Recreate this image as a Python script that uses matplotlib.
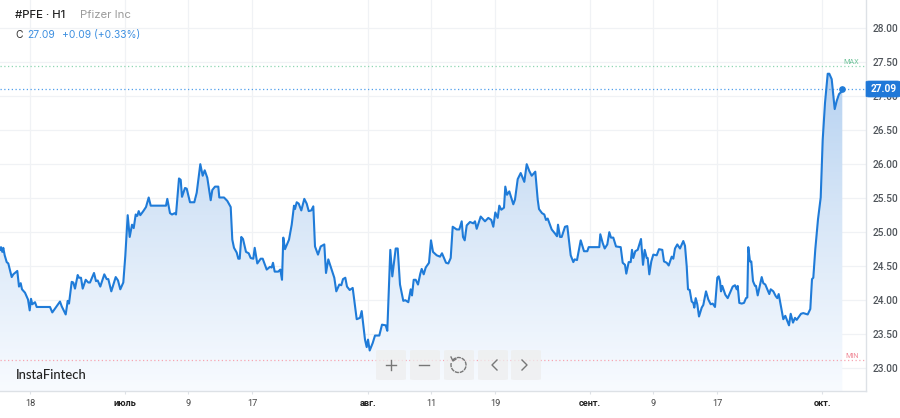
import matplotlib
matplotlib.use("Agg")
import matplotlib.pyplot as plt
import numpy as np
from matplotlib.colors import LinearSegmentedColormap
from matplotlib.patches import FancyBboxPatch, Arc

# bar position on the time axis / close price
bars = [0, 1, 2.3, 3.3, 4.7, 6.7, 8.3, 11.7, 13.3, 17.3, 19, 20.7, 22, 25, 28, 29.7, 31, 32.3, 35, 36.7, 50, 52.3, 60, 61.7, 65.7, 67.7, 69, 71.7, 73.3, 75,
        77.7, 79, 81, 82.7, 85.7, 88.3, 90, 94, 96, 97.7, 100.3, 104.3, 106.7, 108.3, 111.3, 115.7, 118, 120.3, 123.3, 125.3, 127.7, 129.7, 132, 133.7, 135.7, 137.3, 138.7, 140.3, 143.3, 146,
        148.7, 150.7, 166, 167.3, 170, 172, 174.7, 176, 179, 180.7, 182, 185, 186.7, 190, 194.3, 196.7, 200.3, 202.7, 204.7, 207.3, 210.7, 212.3, 215, 218.3, 219.3, 224, 227.3,
        230.7, 232.3, 234, 236.7, 238.3, 239.7, 241.3, 243, 246, 248.7, 250.7, 253.3, 254.7, 257.3, 260.7, 262.7, 266.7, 270, 271.7, 273, 274.7, 278.3, 280.3, 282, 283.3, 285, 289, 291.7,
        294, 295, 296.7, 298.7, 301.3, 304.3, 306.7, 308.7, 311.3, 313.3, 315, 318, 320.7, 324.3, 326, 328.3, 330.7, 334.3, 336.3, 339.3, 341.3, 343, 345.3, 347, 349.7, 352.7, 356.7, 360, 361.7,
        365, 366.7, 368, 369.7, 372.7, 375, 379.3, 382, 385.7, 387.3, 390.3, 392.3, 395.7, 397.7, 400, 403.3, 405.3, 408.3, 410.7, 412, 413.7, 415.7, 418, 420.3, 421.7, 423.7, 425.7, 429, 431, 433, 436.7, 440,
        442, 446, 448.3, 450.7, 452.7, 456.7, 459.3, 461.7, 463, 464.7, 466.7, 470, 473.3, 475, 476.7, 480.7, 485, 488.3, 491.3, 493.3, 495.3, 497.7, 499.3, 501.3, 504, 505.3, 507, 509.3, 513.3, 515,
        517.7, 520.7, 524.3, 526.7, 529.3, 531.7, 535.3, 537.7, 539, 542, 544.3, 546, 547.7, 551.7, 555, 557, 558, 560, 561.7, 565, 567.3, 570.7, 573.3, 574.7, 577, 580.7, 584, 587.3, 588.7, 599.3,
        600.3, 602.7, 604.7, 607.3, 609.3, 611, 613.3, 616, 620.7, 622.7, 625, 626.3, 628.7, 630.7, 632, 633.3, 635.3, 637.7, 641, 643, 644.7, 646.7, 647.7, 649.3,
        651.3, 653.3, 656.7, 659, 662.3, 664, 666.7, 668.7, 671.7, 673.3, 675, 677.3, 680, 683.3, 685, 686.7, 688, 689.7, 691.7, 693.3, 694.3, 695.7, 697.3, 699, 701.7, 703.3, 706, 708.3, 710.7, 712.7, 715,
        717.3, 718.7, 720, 721, 722.3, 725.3, 727.7, 732.7, 735, 736.7, 737.7, 739.3, 741.7, 744, 746, 747.3, 748.3, 750, 751.3, 753, 755, 756, 757.7, 761.7, 763.3, 765.3, 769.3, 770.7, 773.3, 775.7, 777.3, 778.7,
        783.3, 785.3, 789, 790.7, 793, 795, 796.7, 801, 803.3, 807.7, 810.3, 812, 813.3, 815.3, 818, 820.7, 822.7, 825, 827.7, 829.3, 831.7, 834.7, 836.7, 839, 841, 842.3]
prices = [24.73, 24.77, 24.70, 24.76, 24.65, 24.55, 24.53, 24.33, 24.37, 24.42, 24.19, 24.24, 24.15, 24.10, 24.00, 23.84, 24.01, 23.93, 23.96, 23.89, 23.89, 23.81, 23.97, 23.90, 23.78, 23.98, 23.94, 24.26, 24.25, 24.16,
          24.36, 24.32, 24.32, 24.16, 24.29, 24.25, 24.25, 24.39, 24.27, 24.28, 24.19, 24.37, 24.30, 24.30, 24.12, 24.33, 24.28, 24.15, 24.25, 24.64, 25.24, 24.92, 25.10, 25.05, 25.25, 25.23, 25.30, 25.24, 25.30, 25.36,
          25.50, 25.38, 25.38, 25.48, 25.27, 25.25, 25.27, 25.25, 25.78, 25.76, 25.51, 25.64, 25.63, 25.43, 25.43, 25.57, 25.99, 25.82, 25.90, 25.79, 25.46, 25.61, 25.66, 25.66, 25.50, 25.50, 25.45,
          25.36, 24.88, 24.76, 24.69, 24.60, 24.60, 24.92, 24.89, 24.70, 24.68, 24.61, 24.60, 24.76, 24.53, 24.60, 24.60, 24.44, 24.48, 24.47, 24.54, 24.41, 24.41, 24.44, 24.29, 24.91, 24.74, 24.88, 25.10,
          25.38, 25.33, 25.43, 25.41, 25.31, 25.48, 25.41, 25.30, 25.31, 25.37, 24.78, 24.66, 24.78, 24.81, 24.39, 24.59, 24.48, 24.32, 24.12, 24.22, 24.21, 24.30, 24.32, 24.19, 24.14, 24.17, 23.71, 23.73, 23.83,
          23.41, 23.30, 23.41, 23.25, 23.36, 23.47, 23.47, 23.63, 23.62, 23.54, 24.73, 24.34, 24.75, 24.75, 24.22, 23.98, 23.99, 23.96, 24.15, 24.06, 24.29, 24.29, 24.22, 24.38, 24.45, 24.37, 24.47, 24.54, 24.87, 24.70, 24.65, 24.63,
          24.68, 24.54, 24.53, 24.61, 25.07, 25.03, 25.03, 25.15, 24.92, 24.87, 25.09, 25.14, 25.12, 25.15, 25.04, 25.22, 25.15, 25.20, 25.17, 25.07, 25.28, 25.20, 25.38, 25.32, 25.35, 25.66, 25.54, 25.59, 25.40, 25.47,
          25.77, 25.86, 25.73, 25.99, 25.89, 25.82, 25.88, 25.47, 25.33, 25.27, 25.25, 25.17, 25.19, 25.03, 24.97, 24.93, 25.10, 24.92, 24.92, 25.07, 25.08, 24.65, 24.55, 24.59, 24.58, 24.87, 24.71, 24.71, 24.77, 24.77,
          24.96, 24.83, 24.75, 24.81, 24.99, 24.91, 24.91, 24.78, 24.77, 24.54, 24.51, 24.38, 24.55, 24.55, 24.73, 24.61, 24.71, 24.73, 24.89, 24.51, 24.73, 24.61, 24.61, 24.37,
          24.56, 24.66, 24.65, 24.74, 24.73, 24.56, 24.54, 24.50, 24.63, 24.60, 24.75, 24.81, 24.75, 24.86, 24.79, 24.49, 24.15, 24.14, 23.97, 23.95, 23.88, 24.02, 23.93, 23.75, 23.88, 23.92, 24.12, 24.00, 23.93, 23.94, 23.89,
          24.32, 24.34, 24.27, 24.12, 24.20, 24.07, 24.02, 24.19, 24.21, 24.15, 24.20, 23.95, 23.94, 23.95, 24.02, 24.03, 24.77, 24.56, 24.56, 24.27, 24.20, 24.20, 24.06, 24.33, 24.24, 24.22, 24.08, 24.15, 24.12, 24.05, 24.02, 24.08,
          23.71, 23.76, 23.62, 23.79, 23.66, 23.73, 23.70, 23.79, 23.80, 23.78, 23.86, 24.30, 24.32, 24.74, 25.18, 25.50, 26.35, 26.89, 27.32, 27.32, 27.24, 26.80, 26.92, 27.02, 27.05, 27.09]

x_ticks = [30, 125, 188, 252, 368, 431, 495, 590, 653, 717, 822]
x_labels = ["18", "июль", "9", "17", "авг.", "11", "19", "сент.", "9", "17", "окт."]
month_labels = ["июль", "авг.", "сент.", "окт."]
y_ticks = [23.0, 23.5, 24.0, 24.5, 25.0, 25.5, 26.0, 26.5, 27.0, 27.5, 28.0]
last_price = 27.09
max_price = 27.43
min_price = 23.11

BLUE = "#1f7bd8"
W, H = 900, 418

fig = plt.figure(figsize=(W / 100, H / 100), dpi=100, facecolor="white")
ax = fig.add_axes([0, 1 - 391 / H, 866 / W, 391 / H])
ymin, ymax = 28 - (391 - 27.5) / 68, 28 + 27.5 / 68
ax.set_xlim(0, 866)
ax.set_ylim(ymin, ymax)

# grid
ax.set_xticks(x_ticks)
ax.set_yticks(y_ticks)
ax.grid(True, color="#f0f2f5", lw=0.9)
ax.set_axisbelow(True)
for s in ["left", "top"]:
    ax.spines[s].set_visible(False)
for s in ["right", "bottom"]:
    ax.spines[s].set_color("#dde1e6")
    ax.spines[s].set_linewidth(1.0)

ax.yaxis.tick_right()
ax.set_yticklabels(["%.2f" % v for v in y_ticks], fontsize=7.3, color="#50555b", family="Roboto", fontweight="medium")
ax.tick_params(axis="y", length=0, pad=4.5)
ax.set_xticklabels(x_labels, fontsize=6.6, color="#444444", family="Roboto")
ax.tick_params(axis="x", length=2, color="#dde1e6", pad=4)
for lab in ax.get_xticklabels():
    if lab.get_text() in month_labels:
        lab.set_fontweight("bold")
        lab.set_color("#222222")

# area fill: vertical gradient clipped to the price polygon
cmap = LinearSegmentedColormap.from_list("area", [(0, "#b6d2f1"), (0.45, "#d7e6f7"), (1, "#f8fbff")])
grad = np.linspace(0, 1, 256).reshape(-1, 1)
poly = ax.fill_between(bars, prices, ymin, color="none", lw=0)
img = ax.imshow(grad, cmap=cmap, aspect="auto", zorder=1.5,
                extent=[0, 866, ymin, 27.35], origin="upper")
ax.set_xlim(0, 866)
ax.set_ylim(ymin, ymax)
img.set_clip_path(poly.get_paths()[0], transform=ax.transData)

# reference lines
ax.axhline(max_price, color="#8fd6b2", lw=0.9, ls=(0, (1, 2)), zorder=2)
ax.axhline(min_price, color="#f7a5b0", lw=0.9, ls=(0, (1, 2)), zorder=2)
ax.axhline(last_price, color="#4f9fec", lw=0.9, ls=(0, (1, 2)), zorder=2)
ax.text(859, max_price + 0.005, "MAX", color="#72c49c", fontsize=5.2, ha="right", va="bottom", family="Roboto")
ax.text(859, min_price + 0.005, "MIN", color="#f08a98", fontsize=5.2, ha="right", va="bottom", family="Roboto")

# price line
ax.plot(bars, prices, color=BLUE, lw=1.5, solid_joinstyle="round", zorder=3)
ax.plot(bars[-1], prices[-1], "o", color=BLUE, ms=3.8, zorder=4)

# last price badge
px = fig.transFigure
badge = FancyBboxPatch((866 / W, 1 - 97 / H), 34 / W, 16 / H, boxstyle="round,pad=0,rounding_size=0.004",
                       transform=px, fc="#1f78d8", ec="#1f78d8", lw=0.5, clip_on=False, zorder=5, mutation_aspect=H / W)
fig.add_artist(badge)
fig.text(884 / W, 1 - 89 / H, "27.09", color="white", fontsize=7.3, fontweight="bold", ha="center", va="center",
         family="Roboto", zorder=6)

# header
fig.text(15 / W, 1 - 15 / H, "#PFE · H1", fontsize=8.2, color="#222222", family="Inter", va="center", fontweight="medium")
fig.text(80 / W, 1 - 15 / H, "Pfizer Inc", fontsize=8.2, color="#9a9a9a", family="Inter", va="center")
fig.text(15 / W, 1 - 35 / H, "C", fontsize=7.4, color="#333333", family="Inter", va="center")
fig.text(27 / W, 1 - 35 / H, "27.09", fontsize=7.4, color="#3d8fe0", family="Inter", va="center")
fig.text(62 / W, 1 - 35 / H, "+0.09 (+0.33%)", fontsize=7.4, color="#3d8fe0", family="Inter", va="center")
fig.text(16 / W, 1 - 375 / H, "InstaFintech", fontsize=9.4, color="#222222", family="Lato", va="center", fontweight="medium")

# zoom and pan buttons
btn_left = [376, 410, 444, 478, 511]
for bx in btn_left:
    fig.add_artist(FancyBboxPatch((bx / W, 1 - 380 / H), 30 / W, 30 / H, boxstyle="round,pad=0,rounding_size=0.005",
                                  transform=px, fc="#eeeeee", ec="none", alpha=0.75, zorder=7, mutation_aspect=H / W))


def seg(xs, ys):
    fig.add_artist(plt.Line2D([v / W for v in xs], [1 - v / H for v in ys], color="#777777", lw=1.0, zorder=8))


seg([386, 396], [365, 365])
seg([391, 391], [360, 370])
seg([419, 429], [365, 365])
seg([497, 492, 497], [360, 365, 370])
seg([522, 527, 522], [360, 365, 370])
fig.add_artist(Arc((458.5 / W, 1 - 365 / H), 15 / W, 15 / H, theta1=-210, theta2=120, transform=px,
                   color="#777777", lw=1.0, ls=(0, (3, 0.6)), zorder=8))
seg([451, 453, 456], [357, 361, 359])

fig.savefig("out.png", dpi=100)
